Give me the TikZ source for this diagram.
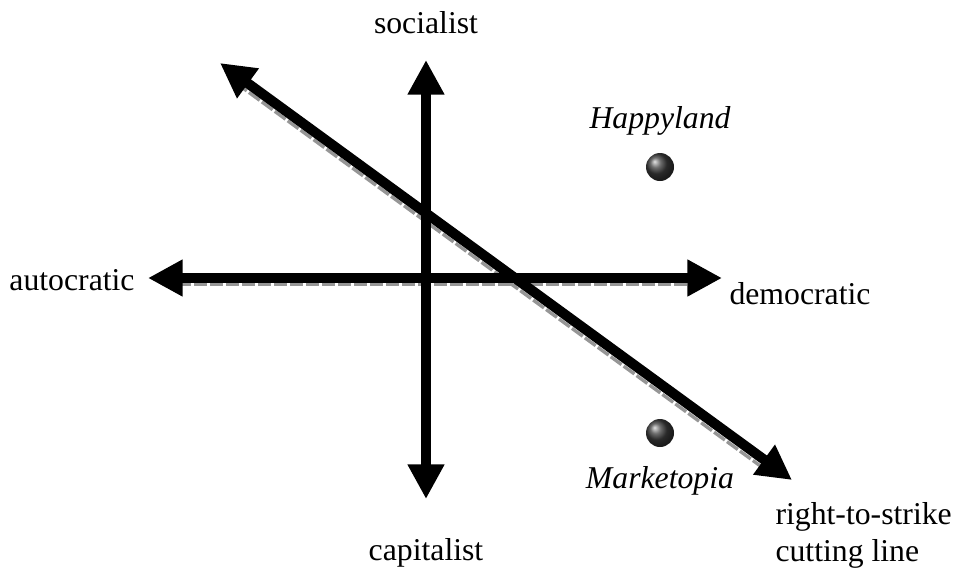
\documentclass[tikz,border=0pt]{standalone}
\usepackage{fontspec}
\setmainfont{Liberation Serif}
\usetikzlibrary{arrows.meta}

\tikzset{every picture/.style={line width=0.75pt}}
\tikzset{
  axis/.style={line width=7.5, {Triangle[length=26,width=26]}-{Triangle[length=26,width=26]}},
  cutline/.style={line width=7.5, {Triangle[length=26,width=26]}-{Triangle[length=26,width=26]}},
  shadow/.style={color={rgb, 255:red, 150; green, 150; blue, 150 }, line width=2.5, dash pattern=on 10pt off 2pt},
  lbl/.style={font=\fontsize{23.8}{28}\selectfont, inner sep=0pt},
  place/.style={circle, minimum size=21, inner sep=0pt, shading=ball, ball color={rgb, 255:red, 60; green, 60; blue, 60 }}
}

\begin{document}
\begin{tikzpicture}[x=0.75pt,y=0.75pt,yscale=-1,xscale=1]
\path[use as bounding box] (0,0) rectangle (955,572);

%Axis ends
\coordinate (top) at (426,60);
\coordinate (bottom) at (426,499);
\coordinate (left) at (148,278);
\coordinate (right) at (722,278);
%Cutting line ends
\coordinate (cutA) at (220,63);
\coordinate (cutB) at (792,480);

%Shadows
\draw [shadow] ([shift={(14,6)}]left) -- ([shift={(-14,6)}]right) ;
\draw [shadow] ([shift={(16,20)}]cutA) -- ([shift={(-22,-7)}]cutB) ;

%Axes
\draw [axis] (left) -- (right) ;
\draw [axis] (bottom) -- (top) ;
%Cutting line
\draw [cutline] (cutA) -- (cutB) ;

%Places
\node [place] (happy) at (660,167) {};
\node [place] (market) at (660,433) {};

% Text Nodes
\node [lbl] (soc) at (426,23) {socialist};
\node [lbl] (cap) at (426,553) {capitalist};
\node [lbl] (aut) at (72,280) {autocratic};
\node [lbl] (dem) at (800,294) {democratic};
\node [lbl] (happylbl) at (660,121) {\itshape Happyland};
\node [lbl] (marketlbl) at (660,481) {\itshape Marketopia};
\node [lbl, anchor=north west, align=left] (strike) at (775,502) {right-to-strike\\cutting line};

\end{tikzpicture}
\end{document}
